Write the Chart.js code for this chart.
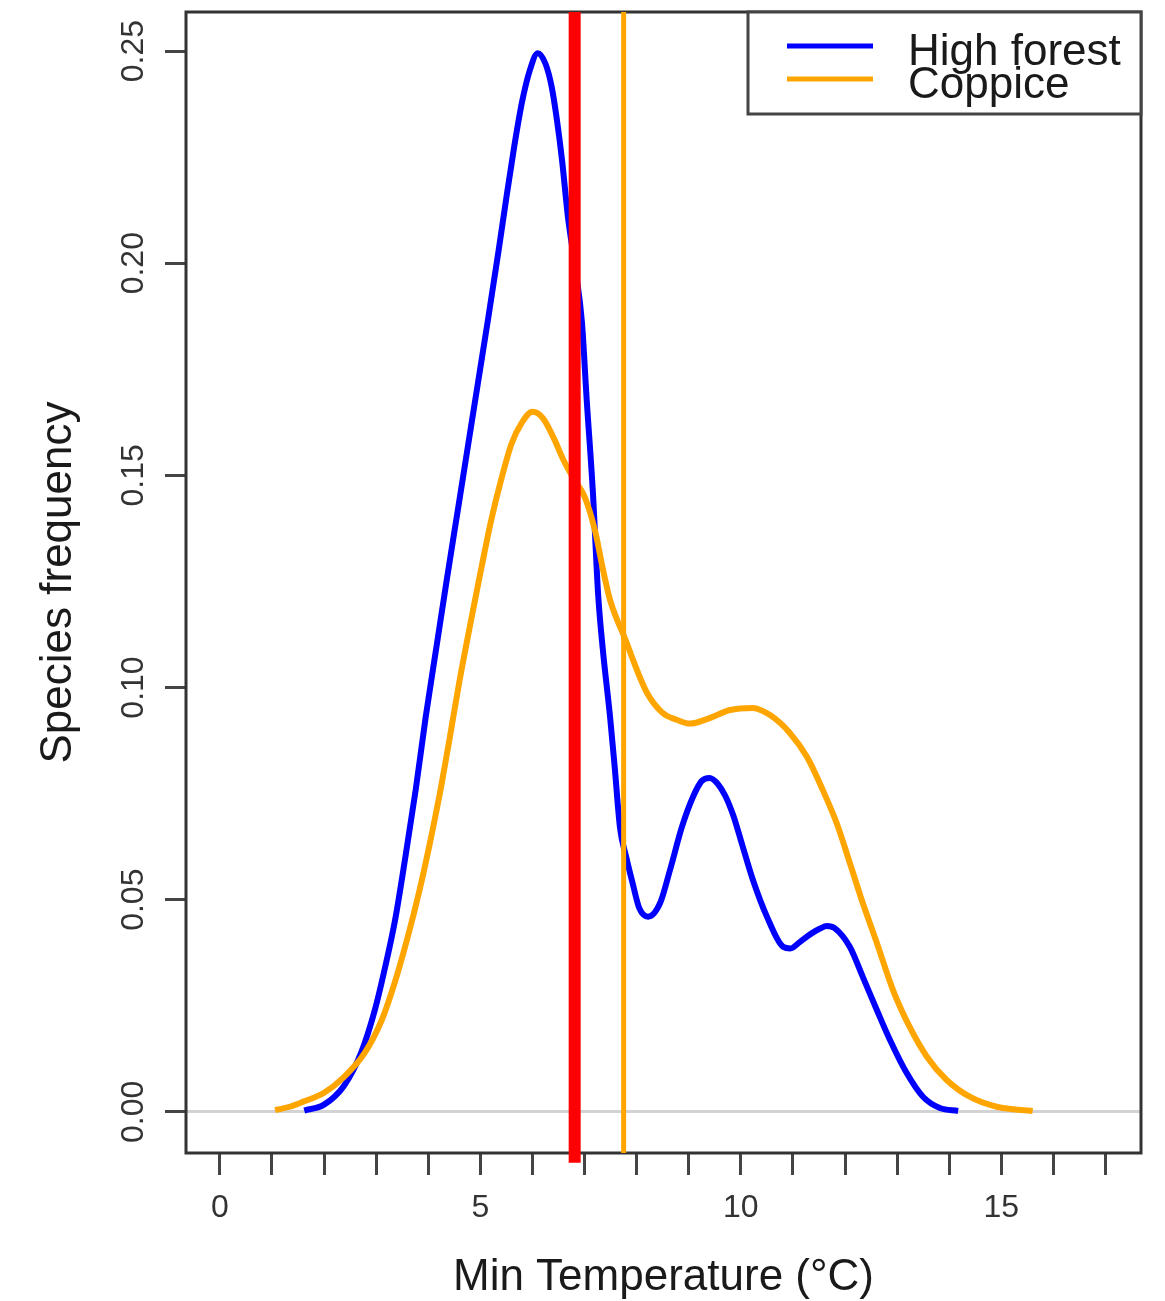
<!DOCTYPE html>
<html>
<head>
<meta charset="utf-8">
<title>Species frequency by minimum temperature</title>
<script src="https://cdn.jsdelivr.net/npm/chart.js@4.4.1/dist/chart.umd.min.js"></script>
<style>
  html, body { margin: 0; padding: 0; background: #ffffff; }
  #wrap { width: 1165px; height: 1301px; }
</style>
</head>
<body>
<div id="wrap"><canvas id="chart" width="1165" height="1301"></canvas></div>
<script>
// Density estimate of species frequency against minimum temperature (°C)
const highForestTemp = [1.62, 2.0, 2.38, 2.71, 2.97, 3.17, 3.36, 3.56, 3.76, 3.95, 4.15, 4.35, 4.55, 4.75, 4.95,
  5.15, 5.35, 5.5, 5.65, 5.8, 5.95, 6.1, 6.25, 6.37, 6.47, 6.57, 6.68, 6.82, 6.95, 7.04, 7.16, 7.26, 7.35,
  7.49, 7.58, 7.68, 7.8, 7.92, 8.05, 8.22, 8.45, 8.64, 8.87, 9.08, 9.25, 9.4, 9.55, 9.7, 9.85, 10.0, 10.23,
  10.5, 10.81, 10.95, 11.13, 11.35, 11.52, 11.65, 11.8, 12.09, 12.34, 12.61, 12.86, 13.18, 13.5, 13.82, 14.17];
const highForestFreq = [0.0003, 0.0017, 0.0061, 0.0139, 0.0238, 0.034, 0.045, 0.060, 0.076, 0.093, 0.109,
  0.125, 0.1405, 0.156, 0.1715, 0.187, 0.203, 0.2155, 0.2275, 0.238, 0.2455, 0.2495, 0.247, 0.2415, 0.2337,
  0.224, 0.211, 0.199, 0.186, 0.168, 0.146, 0.122, 0.109, 0.093, 0.081, 0.067, 0.060, 0.054, 0.048, 0.046,
  0.0492, 0.057, 0.0672, 0.0742, 0.078, 0.0787, 0.0774, 0.0745, 0.070, 0.064, 0.0547, 0.046, 0.0389, 0.0385,
  0.040, 0.042, 0.0432, 0.0438, 0.0433, 0.0389, 0.0318, 0.024, 0.017, 0.0092, 0.0035, 0.0009, 0.0002];

const coppiceTemp = [1.06, 1.34, 1.6, 2.0, 2.38, 2.78, 3.11, 3.36, 3.59, 3.82, 4.02, 4.22, 4.41, 4.6, 4.8,
  5.0, 5.2, 5.4, 5.6, 5.8, 6.0, 6.2, 6.4, 6.6, 6.8, 7.0, 7.2, 7.35, 7.49, 7.81, 7.93, 8.2, 8.5, 8.77,
  9.02, 9.4, 9.79, 10.23, 10.56, 10.94, 11.27, 11.57, 11.84, 12.09, 12.34, 12.61, 12.92, 13.24, 13.57,
  13.95, 14.4, 14.91, 15.6];
const coppiceFreq = [0.0004, 0.0012, 0.0024, 0.0045, 0.0082, 0.0139, 0.0217, 0.0306, 0.0405, 0.0516,
  0.0627, 0.0749, 0.088, 0.1016, 0.1145, 0.127, 0.139, 0.149, 0.1575, 0.1625, 0.165, 0.1635, 0.159,
  0.1535, 0.149, 0.145, 0.137, 0.128, 0.1206, 0.1105, 0.1065, 0.0987, 0.094, 0.0924, 0.0915, 0.0928,
  0.0947, 0.0952, 0.0935, 0.0893, 0.0836, 0.0759, 0.068, 0.0587, 0.0492, 0.0398, 0.0287, 0.02, 0.013,
  0.0075, 0.0035, 0.0012, 0.0002];

// Reference temperatures marked with vertical lines
const highForestMark = 6.81;
const coppiceMark = 7.75;

// Axis ranges and tick labels
const xRange = [-0.65, 17.68];
const yRange = [-0.0097, 0.2592];
const xLabelled = [0, 5, 10, 15];
const yLabels = ['0.00', '0.05', '0.10', '0.15', '0.20', '0.25'];

const seriesNames = ['High forest', 'Coppice'];
const BLUE = '#0000ff', ORANGE = '#ffa500', RED = '#ff0000';
const FONT = "'Liberation Sans', Arial, Helvetica, sans-serif";

const toPoints = (xs, ys) => xs.map((x, i) => ({ x, y: ys[i] }));

// Plot frame around the chart area, drawn underneath the marks
const framePlugin = {
  id: 'frame',
  beforeDatasetsDraw(chart) {
    const { ctx, chartArea: a } = chart;
    ctx.save();
    ctx.strokeStyle = '#333333';
    ctx.lineWidth = 3;
    ctx.strokeRect(a.left, a.top, a.right - a.left, a.bottom - a.top);
    ctx.restore();
  }
};

// Boxed legend in the top-right corner of the plot
const boxLegendPlugin = {
  id: 'boxLegend',
  afterDraw(chart) {
    const { ctx, chartArea: a } = chart;
    const items = chart.data.datasets.filter(d => d.inLegend);
    const boxW = 393, boxH = 102;
    const left = a.right - boxW, top = a.top;
    ctx.save();
    ctx.fillStyle = '#ffffff';
    ctx.fillRect(left, top, boxW, boxH);
    ctx.strokeStyle = '#444444';
    ctx.lineWidth = 3;
    ctx.strokeRect(left, top, boxW, boxH);
    ctx.font = '44px ' + FONT;
    ctx.textAlign = 'left';
    ctx.textBaseline = 'alphabetic';
    items.forEach((d, i) => {
      const lineY = top + 34 + i * 33;
      ctx.strokeStyle = d.borderColor;
      ctx.lineWidth = 5;
      ctx.beginPath();
      ctx.moveTo(left + 39, lineY);
      ctx.lineTo(left + 125, lineY);
      ctx.stroke();
      ctx.fillStyle = '#1a1a1a';
      ctx.fillText(d.label, left + 160, top + 53 + i * 33);
    });
    ctx.restore();
  }
};

const noEdgePadding = s => { s.paddingTop = 0; s.paddingBottom = 0; s.paddingLeft = 0; s.paddingRight = 0; };

new Chart(document.getElementById('chart'), {
  type: 'scatter',
  data: {
    datasets: [
      {
        label: seriesNames[0], inLegend: true,
        data: toPoints(highForestTemp, highForestFreq),
        showLine: true, borderColor: BLUE, borderWidth: 6, pointRadius: 0,
        cubicInterpolationMode: 'monotone', order: 4
      },
      {
        label: seriesNames[1], inLegend: true,
        data: toPoints(coppiceTemp, coppiceFreq),
        showLine: true, borderColor: ORANGE, borderWidth: 6, pointRadius: 0,
        cubicInterpolationMode: 'monotone', order: 3
      },
      {
        label: seriesNames[0] + ' mark',
        data: [{ x: highForestMark, y: -0.012 }, { x: highForestMark, y: yRange[1] }],
        showLine: true, borderColor: RED, borderWidth: 12, borderCapStyle: 'butt',
        pointRadius: 0, clip: false, order: 2
      },
      {
        label: seriesNames[1] + ' mark',
        data: [{ x: coppiceMark, y: yRange[0] }, { x: coppiceMark, y: yRange[1] }],
        showLine: true, borderColor: ORANGE, borderWidth: 5, borderCapStyle: 'butt',
        pointRadius: 0, clip: false, order: 1
      }
    ]
  },
  options: {
    responsive: false,
    animation: false,
    devicePixelRatio: 1,
    layout: { padding: { top: 12, right: 24, left: 0, bottom: 0 } },
    plugins: { legend: { display: false }, tooltip: { enabled: false } },
    scales: {
      x: {
        type: 'linear', position: 'bottom',
        min: xRange[0], max: xRange[1],
        afterFit: s => { s.height = 148; noEdgePadding(s); },
        border: { display: false },
        grid: { drawOnChartArea: false, drawTicks: true, tickLength: 22, tickWidth: 3, tickColor: '#444444' },
        ticks: {
          stepSize: 1, includeBounds: false, autoSkip: false, maxRotation: 0, minRotation: 0,
          padding: 14, color: '#333333', font: { family: FONT, size: 32 },
          callback: v => (xLabelled.includes(v) ? String(v) : '')
        },
        title: {
          display: true, text: 'Min Temperature (°C)', color: '#1a1a1a',
          font: { family: FONT, size: 44, lineHeight: 1.05 }, padding: { top: 0, bottom: 0 }
        }
      },
      y: {
        type: 'linear', position: 'left',
        min: yRange[0], max: yRange[1],
        afterFit: s => { s.width = 186; noEdgePadding(s); },
        border: { display: false },
        grid: {
          drawOnChartArea: true, drawTicks: true, tickLength: 21, tickWidth: 3, tickColor: '#444444',
          color: c => (c.tick && Math.abs(c.tick.value) < 1e-9 ? '#d3d3d3' : 'rgba(0,0,0,0)'),
          lineWidth: 3
        },
        ticks: {
          stepSize: 0.05, includeBounds: false, autoSkip: false,
          minRotation: 90, maxRotation: 90, crossAlign: 'center', padding: 0,
          color: '#333333', font: { family: FONT, size: 32 },
          callback: v => yLabels[Math.round(v / 0.05)]
        },
        title: {
          display: true, text: 'Species frequency', color: '#1a1a1a',
          font: { family: FONT, size: 44, lineHeight: 1.2 }, padding: { top: 32, bottom: 0 }
        }
      }
    }
  },
  plugins: [framePlugin, boxLegendPlugin]
});
</script>
</body>
</html>
